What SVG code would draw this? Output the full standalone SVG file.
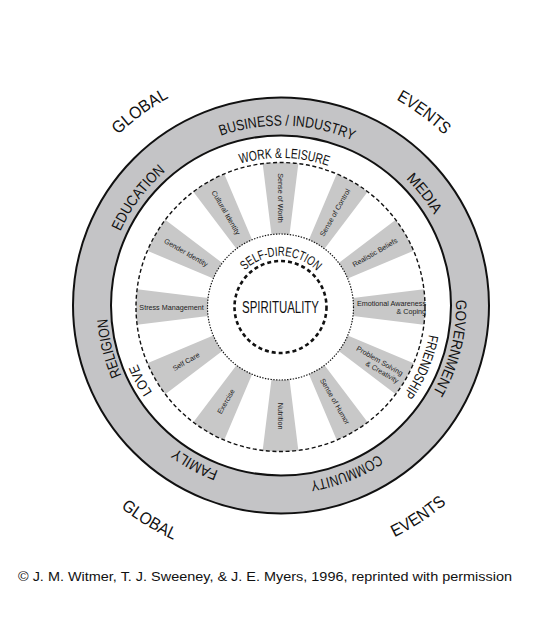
<svg xmlns="http://www.w3.org/2000/svg" xmlns:xlink="http://www.w3.org/1999/xlink" width="560" height="620" viewBox="0 0 560 620">
<style>
  .band-text{font-family:"Liberation Sans",Arial,sans-serif;font-size:15px;fill:#111;}
  .ring-text{font-family:"Liberation Sans",Arial,sans-serif;font-size:14px;fill:#111;}
  .world-text{font-family:"Liberation Sans",Arial,sans-serif;font-size:17px;fill:#111;}
  .spoke-text{font-family:"Liberation Sans",Arial,sans-serif;font-size:7.2px;fill:#222;}
  .spoke{fill:#c8c8c8;}
  .foot{font-family:"Liberation Sans",Arial,sans-serif;font-size:13px;fill:#111;}
</style>
<defs>
  <path id="spoke" d="M352.94 297.98 L423.89 289.14 A144.5 144.5 0 0 1 423.89 324.86 L352.94 316.02 A73 73 0 0 0 352.94 297.98 Z"/>
  <path id="p-business" d="M128.4 210.1 A180 180 0 0 1 439.9 221.0"/>
  <path id="p-media" d="M256.2 129.2 A178 178 0 0 1 446.0 372.2"/>
  <path id="p-government" d="M402.6 179.6 A175 175 0 0 1 329.2 473.7"/>
  <path id="p-community" d="M457.0 332.4 A178 178 0 0 1 169.7 444.4"/>
  <path id="p-family" d="M373.5 456.4 A177 177 0 0 1 104.1 310.1"/>
  <path id="p-religion" d="M233.0 472.8 A174 174 0 0 1 160.1 180.3"/>
  <path id="p-education" d="M118.1 374.7 A177 177 0 0 1 302.6 129.8"/>
  <path id="p-work" d="M153.5 229.1 A149 149 0 0 1 411.4 235.9"/>
  <path id="p-friend" d="M401.1 216.1 A151 151 0 0 1 298.9 456.9"/>
  <path id="p-love" d="M274.0 460.9 A154 154 0 0 1 150.5 224.5"/>
  <path id="p-self" d="M232.7 289.1 A51 51 0 0 1 328.6 290.0"/>
  <path id="p-global-top" d="M46.3 330.2 A236 236 0 0 1 377.0 89.9"/>
  <path id="p-events-top" d="M186.9 89.1 A236 236 0 0 1 515.5 332.2"/>
  <path id="p-global-bot" d="M23.1 298.7 A258 258 0 0 0 404.1 532.2"/>
  <path id="p-events-bot" d="M163.9 535.4 A258 258 0 0 0 538.6 292.0"/>
</defs>

<g id="outer-band">
  <circle cx="281" cy="305.5" r="208" fill="#c4c4c6" stroke="#111" stroke-width="2"/>
  <circle cx="281" cy="305.5" r="170" fill="#ffffff" stroke="#111" stroke-width="2"/>
</g>

<g id="spokes">
  <use xlink:href="#spoke" class="spoke" transform="rotate(0 280.5 307)"/>
  <use xlink:href="#spoke" class="spoke" transform="rotate(30 280.5 307)"/>
  <use xlink:href="#spoke" class="spoke" transform="rotate(60 280.5 307)"/>
  <use xlink:href="#spoke" class="spoke" transform="rotate(90 280.5 307)"/>
  <use xlink:href="#spoke" class="spoke" transform="rotate(120 280.5 307)"/>
  <use xlink:href="#spoke" class="spoke" transform="rotate(150 280.5 307)"/>
  <use xlink:href="#spoke" class="spoke" transform="rotate(180 280.5 307)"/>
  <use xlink:href="#spoke" class="spoke" transform="rotate(210 280.5 307)"/>
  <use xlink:href="#spoke" class="spoke" transform="rotate(240 280.5 307)"/>
  <use xlink:href="#spoke" class="spoke" transform="rotate(270 280.5 307)"/>
  <use xlink:href="#spoke" class="spoke" transform="rotate(300 280.5 307)"/>
  <use xlink:href="#spoke" class="spoke" transform="rotate(330 280.5 307)"/>
</g>

<g id="rings">
  <circle cx="280.5" cy="307" r="144.5" fill="none" stroke="#111" stroke-width="1.4" stroke-dasharray="4 2.6"/>
  <circle cx="280.5" cy="307" r="73" fill="none" stroke="#111" stroke-width="1.2" stroke-dasharray="1.4 1.4"/>
  <circle cx="280.5" cy="307" r="46" fill="none" stroke="#111" stroke-width="2.6" stroke-dasharray="4 3"/>
</g>

<g id="spirituality">
  <text x="280.5" y="313.3" text-anchor="middle" font-family="Liberation Sans, Arial, sans-serif" font-size="16" fill="#111" textLength="77" lengthAdjust="spacingAndGlyphs">SPIRITUALITY</text>
</g>
<g id="self-direction">
  <text class="ring-text" style="font-size:13px"><textPath xlink:href="#p-self" startOffset="50%" text-anchor="middle" textLength="80" lengthAdjust="spacingAndGlyphs">SELF-DIRECTION</textPath></text>
</g>

<g id="sense-of-worth"><text class="spoke-text" text-anchor="middle" dy="0.35em" transform="translate(280.5 198) rotate(90)">Sense of Worth</text></g>
<g id="sense-of-control"><text class="spoke-text" text-anchor="middle" dy="0.35em" transform="translate(335 212.6) rotate(-60)">Sense of Control</text></g>
<g id="realistic-beliefs"><text class="spoke-text" text-anchor="middle" dy="0.35em" transform="translate(374.9 252.5) rotate(-30)">Realistic Beliefs</text></g>
<g id="emotional-awareness" class="spoke-text" text-anchor="end">
  <text x="426" y="305.5">Emotional Awareness</text>
  <text x="426" y="314">&amp; Coping</text>
</g>
<g id="problem-solving" class="spoke-text" text-anchor="end" transform="translate(280.5 307) rotate(30)">
  <text x="139" y="-0.5">Problem Solving</text>
  <text x="139" y="8">&amp; Creativity</text>
</g>
<g id="sense-of-humor"><text class="spoke-text" text-anchor="middle" dy="0.35em" transform="translate(335 401.4) rotate(60)">Sense of Humor</text></g>
<g id="nutrition"><text class="spoke-text" text-anchor="middle" dy="0.35em" transform="translate(280.5 416) rotate(90)">Nutrition</text></g>
<g id="exercise"><text class="spoke-text" text-anchor="middle" dy="0.35em" transform="translate(226 401.4) rotate(-60)">Exercise</text></g>
<g id="self-care"><text class="spoke-text" text-anchor="middle" dy="0.35em" transform="translate(186.1 361.5) rotate(-30)">Self Care</text></g>
<g id="stress-management"><text class="spoke-text" text-anchor="middle" dy="0.35em" transform="translate(171.5 307)">Stress Management</text></g>
<g id="gender-identity"><text class="spoke-text" text-anchor="middle" dy="0.35em" transform="translate(186.1 252.5) rotate(30)">Gender Identity</text></g>
<g id="cultural-identity"><text class="spoke-text" text-anchor="middle" dy="0.35em" transform="translate(226 212.6) rotate(60)">Cultural Identity</text></g>

<g id="work-leisure"><text class="ring-text"><textPath xlink:href="#p-work" startOffset="50%" text-anchor="middle" textLength="89" lengthAdjust="spacingAndGlyphs">WORK &amp; LEISURE</textPath></text></g>
<g id="friendship"><text class="ring-text"><textPath xlink:href="#p-friend" startOffset="50%" text-anchor="middle" textLength="66" lengthAdjust="spacingAndGlyphs">FRIENDSHIP</textPath></text></g>
<g id="love"><text class="ring-text"><textPath xlink:href="#p-love" startOffset="50%" text-anchor="middle" textLength="32" lengthAdjust="spacingAndGlyphs">LOVE</textPath></text></g>

<g id="business-industry"><text class="band-text"><textPath xlink:href="#p-business" startOffset="50%" text-anchor="middle" textLength="135" lengthAdjust="spacingAndGlyphs">BUSINESS / INDUSTRY</textPath></text></g>
<g id="media"><text class="band-text"><textPath xlink:href="#p-media" startOffset="50%" text-anchor="middle" textLength="46" lengthAdjust="spacingAndGlyphs">MEDIA</textPath></text></g>
<g id="government"><text class="band-text"><textPath xlink:href="#p-government" startOffset="50%" text-anchor="middle" textLength="97" lengthAdjust="spacingAndGlyphs">GOVERNMENT</textPath></text></g>
<g id="community"><text class="band-text"><textPath xlink:href="#p-community" startOffset="50%" text-anchor="middle" textLength="74" lengthAdjust="spacingAndGlyphs">COMMUNITY</textPath></text></g>
<g id="family"><text class="band-text"><textPath xlink:href="#p-family" startOffset="50%" text-anchor="middle" textLength="48" lengthAdjust="spacingAndGlyphs">FAMILY</textPath></text></g>
<g id="religion"><text class="band-text"><textPath xlink:href="#p-religion" startOffset="50%" text-anchor="middle" textLength="59" lengthAdjust="spacingAndGlyphs">RELIGION</textPath></text></g>
<g id="education"><text class="band-text"><textPath xlink:href="#p-education" startOffset="50%" text-anchor="middle" textLength="76" lengthAdjust="spacingAndGlyphs">EDUCATION</textPath></text></g>

<g id="global-top"><text class="world-text"><textPath xlink:href="#p-global-top" startOffset="50%" text-anchor="middle" textLength="63" lengthAdjust="spacingAndGlyphs">GLOBAL</textPath></text></g>
<g id="events-top"><text class="world-text"><textPath xlink:href="#p-events-top" startOffset="50%" text-anchor="middle" textLength="60" lengthAdjust="spacingAndGlyphs">EVENTS</textPath></text></g>
<g id="global-bottom"><text class="world-text"><textPath xlink:href="#p-global-bot" startOffset="50%" text-anchor="middle" textLength="62" lengthAdjust="spacingAndGlyphs">GLOBAL</textPath></text></g>
<g id="events-bottom"><text class="world-text"><textPath xlink:href="#p-events-bot" startOffset="50%" text-anchor="middle" textLength="62" lengthAdjust="spacingAndGlyphs">EVENTS</textPath></text></g>

<g id="credit"><text class="foot" x="18" y="581" textLength="494" lengthAdjust="spacingAndGlyphs">© J. M. Witmer, T. J. Sweeney, &amp; J. E. Myers, 1996, reprinted with permission</text></g>
</svg>
